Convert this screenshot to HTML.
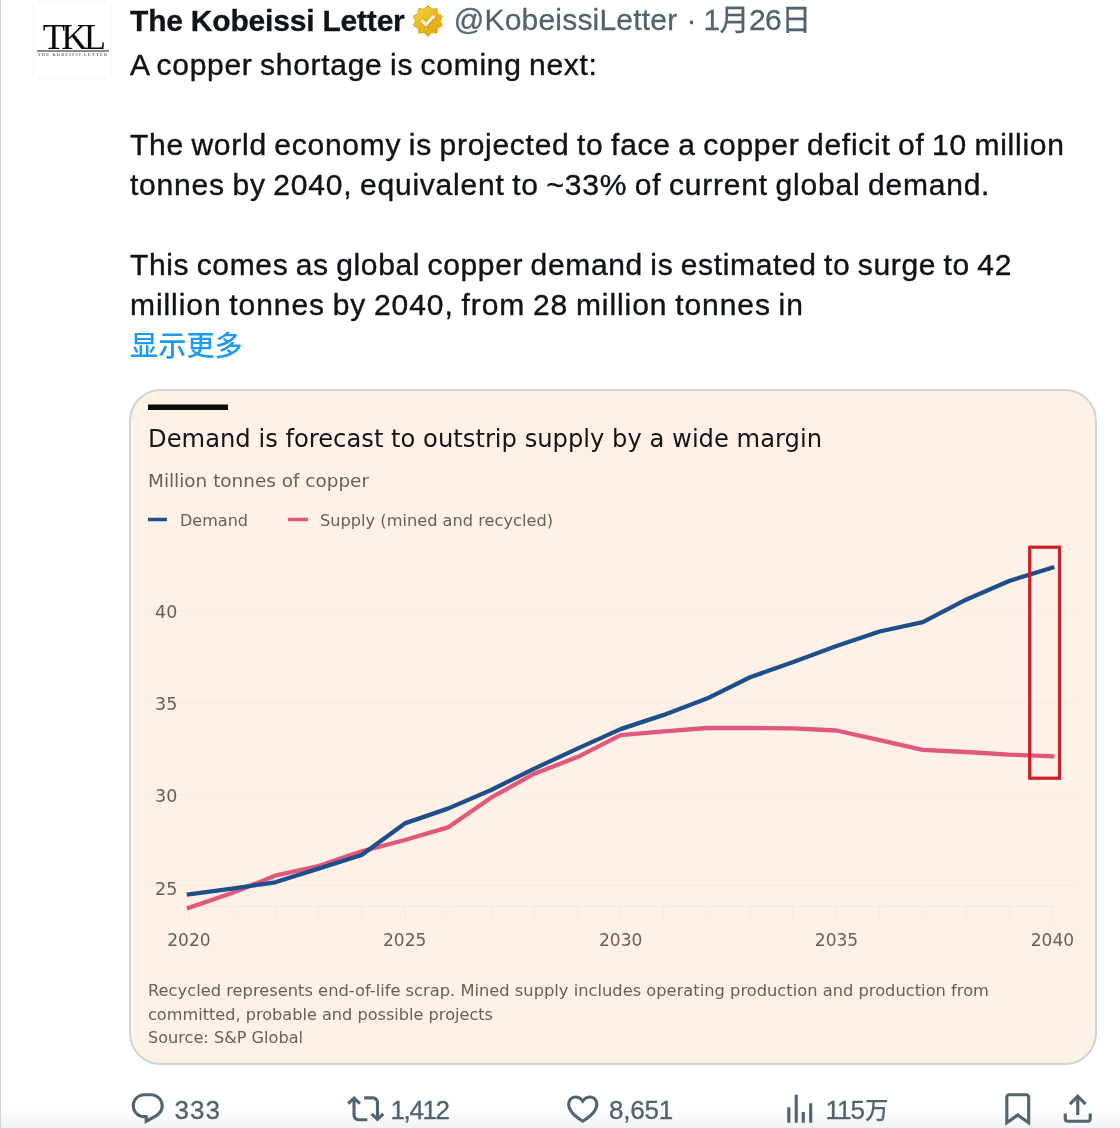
<!DOCTYPE html>
<html lang="zh">
<head>
<meta charset="utf-8">
<title>Tweet</title>
<style>
html,body{margin:0;padding:0;background:#fff;}
body{width:1120px;height:1128px;position:relative;overflow:hidden;font-family:"Liberation Sans","Noto Sans CJK SC",sans-serif;color:#0f1419;}
.abs{position:absolute;white-space:nowrap;}
#lb{left:0;top:0;width:1px;height:1128px;background:#ccd6dc;}
#fade{left:1px;top:1103px;width:1119px;height:25px;background:linear-gradient(to bottom,rgba(242,244,246,0),rgba(242,244,246,.35) 45%,#f1f3f5);}
#av{left:33px;top:1px;width:79px;height:78px;border-radius:8px;border:1px solid #f8f8f8;box-sizing:border-box;background:#fff;}
#tkl{left:33.5px;top:17px;width:78px;text-align:center;font-family:"Liberation Serif",serif;font-size:36.5px;line-height:40px;letter-spacing:-3.9px;color:#0a0a0a;}
#tklline{left:37px;top:50px;width:72px;height:1.5px;background:#8a8a8a;}
#tklsub{left:34px;top:52px;width:78px;text-align:center;font-family:"Liberation Serif",serif;font-size:4.2px;line-height:6px;letter-spacing:1.18px;color:#6a6a6a;font-weight:bold;}
.t{font-size:30px;line-height:40px;left:129px;}
.b{word-spacing:-1.5px;-webkit-text-stroke:.4px #0f1419;}
#name{top:1px;font-weight:bold;letter-spacing:-.2px;left:130px;-webkit-text-stroke:.3px #0f1419;}
#handle{top:0;left:453.8px;color:#536471;letter-spacing:.2px;}
.h{-webkit-text-stroke:.3px #536471;}
.c{font-size:26px;line-height:32px;color:#536471;top:1093.5px;-webkit-text-stroke:.35px #536471;}
svg{position:absolute;overflow:visible;}
#card{left:129px;top:389px;width:968px;height:676px;box-sizing:border-box;border:2px solid #c9d6de;border-radius:32px;background:#fff1e5;overflow:hidden;}
</style>
</head>
<body>
<div class="abs" id="lb"></div>
<div class="abs" id="av"></div>
<div class="abs" id="tkl">TKL</div>
<div class="abs" id="tklline"></div>
<div class="abs" id="tklsub">THE KOBEISSI LETTER</div>

<div class="abs t" id="name">The Kobeissi Letter</div>
<svg id="badge" style="left:411.9px;top:4.85px" width="31.8" height="31.8" viewBox="0 0 22 22">
  <defs><linearGradient id="g" x1="0.15" y1="0.05" x2="0.85" y2="0.95"><stop offset="0" stop-color="#f5d646"/><stop offset="0.45" stop-color="#ebb91f"/><stop offset="1" stop-color="#e1a616"/></linearGradient></defs>
  <path fill="url(#g)" stroke="#e6ad1c" stroke-width="0.8" stroke-linejoin="round" d="M13.596 3.011L11 .5 8.404 3.011l-3.576-.506-.624 3.558-3.190 1.692L2.600 11l-1.586 3.245 3.190 1.692.624 3.558 3.576-.506L11 21.500l2.596-2.511 3.576.506.624-3.558 3.190-1.692L19.400 11l1.586-3.245-3.190-1.692-.624-3.558-3.576.506z"/>
  <path fill="#d28c08" transform="translate(0.35,0.7)" d="M6 11.390l3.740 3.740 6.200-6.770L14.470 7l-4.800 5.230-2.260-2.260L6 11.390z"/>
  <path fill="#fff" d="M6 11.390l3.740 3.740 6.200-6.770L14.470 7l-4.800 5.230-2.260-2.260L6 11.390z"/>
</svg>
<div class="abs t h" id="handle">@KobeissiLetter</div>
<div class="abs t h" style="left:686.5px;top:0;color:#536471">·</div>
<div class="abs t h" style="left:703.5px;top:0;color:#536471;letter-spacing:-.6px">1月26日</div>

<div class="abs t b" style="top:45px;left:130px;letter-spacing:0.704px">A copper shortage is coming next:</div>
<div class="abs t b" style="top:125px;left:130px;letter-spacing:0.732px">The world economy is projected to face a copper deficit of 10 million</div>
<div class="abs t b" style="top:165px;left:130px;letter-spacing:0.789px">tonnes by 2040, equivalent to ~33% of current global demand.</div>
<div class="abs t b" style="top:245px;left:130px;letter-spacing:0.640px">This comes as global copper demand is estimated to surge to 42</div>
<div class="abs t b" style="top:285px;left:130px;letter-spacing:0.928px">million tonnes by 2040, from 28 million tonnes in</div>
<div class="abs t" style="top:326px;left:130px;color:#1d9bf0;font-size:28.2px;font-weight:500">显示更多</div>

<div class="abs" id="card">
<svg style="left:-131px;top:-391px" width="1120" height="1128" viewBox="0 0 1120 1128">
  <rect x="148" y="404.5" width="80" height="5.5" fill="#0b0b0b"/>
  <g stroke="#f9ebe0" stroke-width="1">
    <line x1="148" x2="1078" y1="611.5" y2="611.5"/><line x1="148" x2="1078" y1="703.5" y2="703.5"/>
    <line x1="148" x2="1078" y1="795.5" y2="795.5"/><line x1="148" x2="1078" y1="885.5" y2="885.5"/>
  </g>
  <g stroke="#f6e7db" stroke-width="1"><line x1="188" x2="1053" y1="906.5" y2="906.5"/><line x1="188.9" x2="188.9" y1="907" y2="922"/><line x1="232.1" x2="232.1" y1="907" y2="917"/><line x1="275.2" x2="275.2" y1="907" y2="917"/><line x1="318.4" x2="318.4" y1="907" y2="917"/><line x1="361.6" x2="361.6" y1="907" y2="917"/><line x1="404.8" x2="404.8" y1="907" y2="922"/><line x1="447.9" x2="447.9" y1="907" y2="917"/><line x1="491.1" x2="491.1" y1="907" y2="917"/><line x1="534.3" x2="534.3" y1="907" y2="917"/><line x1="577.4" x2="577.4" y1="907" y2="917"/><line x1="620.6" x2="620.6" y1="907" y2="922"/><line x1="663.8" x2="663.8" y1="907" y2="917"/><line x1="706.9" x2="706.9" y1="907" y2="917"/><line x1="750.1" x2="750.1" y1="907" y2="917"/><line x1="793.3" x2="793.3" y1="907" y2="917"/><line x1="836.5" x2="836.5" y1="907" y2="922"/><line x1="879.6" x2="879.6" y1="907" y2="917"/><line x1="922.8" x2="922.8" y1="907" y2="917"/><line x1="966.0" x2="966.0" y1="907" y2="917"/><line x1="1009.1" x2="1009.1" y1="907" y2="917"/><line x1="1052.3" x2="1052.3" y1="907" y2="922"/></g>
  <line x1="148" x2="167" y1="519.5" y2="519.5" stroke="#1f4e8c" stroke-width="3.5"/>
  <line x1="288" x2="308" y1="519.5" y2="519.5" stroke="#e0587e" stroke-width="3.5"/>
  <polyline fill="none" stroke="#e0587e" stroke-width="4.3" stroke-linejoin="round" stroke-linecap="square" points="188.9,907.7 232.1,893.0 275.2,875.7 318.4,866.0 361.6,851.4 404.8,840.0 447.9,827.4 491.1,797.7 534.3,773.7 577.4,757.1 620.6,735.1 663.8,731.4 706.9,728.0 750.1,728.0 793.3,728.3 836.5,730.5 879.6,740.2 922.8,749.8 966.0,752.0 1009.1,754.6 1052.3,756.2"/>
  <polyline fill="none" stroke="#1f4e8c" stroke-width="4.3" stroke-linejoin="round" stroke-linecap="square" points="188.9,894.3 232.1,888.6 275.2,882.3 318.4,868.6 361.6,855.0 404.8,823.4 447.9,808.6 491.1,790.0 534.3,768.6 577.4,748.6 620.6,729.1 663.8,714.9 706.9,698.6 750.1,677.3 793.3,662.0 836.5,646.0 879.6,631.5 922.8,622.2 966.0,599.7 1009.1,581.0 1052.3,567.6"/>
  <rect x="1029.7" y="547.2" width="29.8" height="231" fill="none" stroke="#cb1f2b" stroke-width="3.2"/>
  <g font-family="DejaVu Sans, Liberation Sans, sans-serif" fill="#66605c">
    <text x="148" y="446.5" font-size="24" fill="#151413" textLength="674" lengthAdjust="spacingAndGlyphs">Demand is forecast to outstrip supply by a wide margin</text>
    <text x="148" y="486.5" font-size="18" textLength="221" lengthAdjust="spacingAndGlyphs">Million tonnes of copper</text>
    <text x="180" y="526" font-size="16.5" textLength="68" lengthAdjust="spacingAndGlyphs">Demand</text>
    <text x="320" y="526" font-size="16.5" textLength="233" lengthAdjust="spacingAndGlyphs">Supply (mined and recycled)</text>
    <g font-size="17.5">
      <text x="155" y="617.5">40</text><text x="155" y="710">35</text><text x="155" y="802">30</text><text x="155" y="894.5">25</text>
    </g>
    <g font-size="18">
      <text x="167.2" y="946" textLength="43.4" lengthAdjust="spacingAndGlyphs">2020</text><text x="383" y="946" textLength="43.4" lengthAdjust="spacingAndGlyphs">2025</text><text x="599" y="946" textLength="43.4" lengthAdjust="spacingAndGlyphs">2030</text><text x="814.8" y="946" textLength="43.4" lengthAdjust="spacingAndGlyphs">2035</text><text x="1030.7" y="946" textLength="43.4" lengthAdjust="spacingAndGlyphs">2040</text>
    </g>
    <g font-size="16.4">
      <text x="148" y="995.8" textLength="841" lengthAdjust="spacingAndGlyphs">Recycled represents end-of-life scrap. Mined supply includes operating production and production from</text>
      <text x="148" y="1019.5" textLength="345" lengthAdjust="spacingAndGlyphs">committed, probable and possible projects</text>
      <text x="148" y="1042.5" textLength="155" lengthAdjust="spacingAndGlyphs">Source: S&amp;P Global</text>
    </g>
  </g>
</svg>
</div>

<div class="abs" id="fade"></div>
<svg class="ic" style="left:129px;top:1090px" width="37.5" height="37.5" viewBox="0 0 24 24"><path fill="#536471" d="M1.751 10c0-4.420 3.584-8 8.005-8h4.366c4.490 0 8.129 3.640 8.129 8.130 0 2.960-1.607 5.680-4.196 7.110l-8.054 4.460v-3.690h-.067c-4.490.100-8.183-3.510-8.183-8.010zm8.005-6c-3.317 0-6.005 2.690-6.005 6 0 3.370 2.770 6.080 6.138 6.010l.351-.010h1.761v2.300l5.087-2.810c1.951-1.080 3.163-3.130 3.163-5.360 0-3.390-2.744-6.130-6.129-6.130H9.756z"/></svg>
<svg class="ic" style="left:347px;top:1090px" width="37.5" height="37.5" viewBox="0 0 24 24"><path fill="#536471" d="M4.500 3.880l4.432 4.140-1.364 1.460L5.500 7.550V16c0 1.100.896 2 2 2H13v2H7.500c-2.209 0-4-1.790-4-4V7.550L1.432 9.480.068 8.020 4.500 3.880zM16.500 6H11V4h5.500c2.209 0 4 1.790 4 4v8.450l2.068-1.930 1.364 1.460-4.432 4.140-4.432-4.140 1.364-1.460 2.068 1.930V8c0-1.100-.896-2-2-2z"/></svg>
<svg class="ic" style="left:564px;top:1090px" width="37.5" height="37.5" viewBox="0 0 24 24"><path fill="#536471" d="M16.697 5.500c-1.222-.060-2.679.510-3.890 2.160l-.805 1.090-.806-1.090C9.984 6.010 8.526 5.440 7.304 5.500c-1.243.070-2.349.780-2.910 1.910-.552 1.120-.633 2.780.479 4.820 1.074 1.970 3.257 4.270 7.129 6.610 3.870-2.340 6.052-4.640 7.126-6.610 1.111-2.040 1.030-3.700.477-4.820-.561-1.130-1.666-1.840-2.908-1.910zm4.187 7.690c-1.351 2.480-4.001 5.120-8.379 7.670l-.503.300-.504-.300c-4.379-2.550-7.029-5.190-8.382-7.670-1.360-2.500-1.410-4.860-.514-6.670.887-1.790 2.647-2.910 4.601-3.010 1.651-.090 3.368.560 4.798 2.010 1.429-1.450 3.146-2.100 4.796-2.010 1.954.100 3.714 1.220 4.601 3.010.896 1.810.846 4.170-.514 6.670z"/></svg>
<svg class="ic" style="left:781px;top:1090px" width="37.5" height="37.5" viewBox="0 0 24 24"><path fill="#536471" d="M8.750 21V3h2v18h-2zM18 21V8.500h2V21h-2zM4 21l.004-10h2L6 21H4zm9.248 0v-7h2v7h-2z"/></svg>
<svg class="ic" style="left:999px;top:1090px" width="37.5" height="37.5" viewBox="0 0 24 24"><path fill="#536471" d="M4 4.500C4 3.120 5.119 2 6.500 2h11C18.881 2 20 3.120 20 4.500v18.440l-8-5.710-8 5.710V4.500zM6.500 4c-.276 0-.5.220-.5.500v14.560l6-4.290 6 4.290V4.500c0-.280-.224-.500-.500-.500h-11z"/></svg>
<svg class="ic" style="left:1059px;top:1090px" width="37.5" height="37.5" viewBox="0 0 24 24"><path fill="#536471" d="M12 2.590l5.700 5.700-1.410 1.420L13 6.410V16h-2V6.410l-3.300 3.300-1.410-1.420L12 2.590zM21 15l-.020 3.510c0 1.380-1.120 2.490-2.500 2.490H5.500C4.110 21 3 19.880 3 18.500V15h2v3.500c0 .280.220.500.500.500h12.980c.280 0 .500-.220.500-.500L19 15h2z"/></svg>

<div class="abs c" style="left:174.5px;letter-spacing:1px">333</div>
<div class="abs c" style="left:390.5px;letter-spacing:-1.4px">1,412</div>
<div class="abs c" style="left:609px;letter-spacing:-.2px">8,651</div>
<div class="abs c" style="left:825.5px;letter-spacing:-1px">115<span style="font-size:23.5px;font-weight:500;-webkit-text-stroke:0;letter-spacing:0;margin-left:1px">万</span></div>
</body>
</html>
